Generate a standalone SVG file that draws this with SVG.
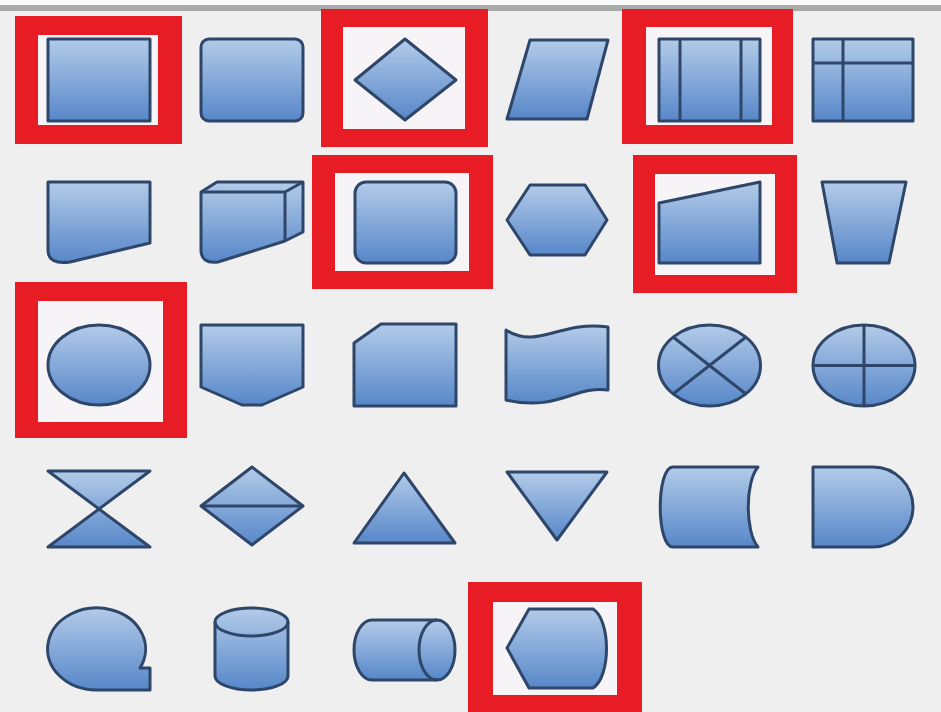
<svg xmlns="http://www.w3.org/2000/svg" width="941" height="712" viewBox="0 0 941 712">
<defs>
<linearGradient id="g" x1="0" y1="0" x2="0" y2="1">
<stop offset="0" stop-color="#b3cbe9"/>
<stop offset="1" stop-color="#5787c9"/>
</linearGradient>
<style>
.s{fill:url(#g);stroke:#2e4669;stroke-width:3;stroke-linejoin:round}
.l{fill:none;stroke:#2e4669;stroke-width:3}
.r{fill:#e81c24;fill-rule:evenodd}
.w{fill:#f7f4f7}
</style>
</defs>
<rect x="0" y="0" width="941" height="712" fill="#efefef"/>
<rect x="0" y="0" width="941" height="5" fill="#fafafa"/>
<rect x="0" y="5" width="941" height="6" fill="#a9a9a9"/>
<g id="highlights">
<rect class="w" x="38" y="35" width="120" height="90"/>
<path class="r" d="M15,16H182V144H15Z M38,35V125H158V35Z"/>
<rect class="w" x="343" y="27" width="122" height="102"/>
<path class="r" d="M321,9H488V147H321Z M343,27V129H465V27Z"/>
<rect class="w" x="646" y="27" width="126" height="98"/>
<path class="r" d="M622,9H793V144H622Z M646,27V125H772V27Z"/>
<rect class="w" x="335" y="173" width="134" height="98"/>
<path class="r" d="M312,155H493V289H312Z M335,173V271H469V173Z"/>
<rect class="w" x="655" y="174" width="120" height="101"/>
<path class="r" d="M633,155H797V293H633Z M655,174V275H775V174Z"/>
<rect class="w" x="38" y="301" width="125" height="121"/>
<path class="r" d="M15,282H187V438H15Z M38,301V422H163V301Z"/>
<rect class="w" x="493" y="602" width="124" height="93"/>
<path class="r" d="M468,582H642V712H468Z M493,602V695H617V602Z"/>
</g>
<g id="process"><rect class="s" x="48" y="39" width="102" height="82"/></g>
<g id="alternate-process"><rect class="s" x="201" y="39" width="102" height="82" rx="8"/></g>
<g id="decision"><path class="s" d="M405,39L456,80L405,120L355,80Z"/></g>
<g id="data"><path class="s" d="M530,40H608L587,119H507Z"/></g>
<g id="predefined-process"><rect class="s" x="659" y="39" width="101" height="82"/><path class="l" d="M680,39V121M741,39V121"/></g>
<g id="internal-storage"><rect class="s" x="813" y="39" width="100" height="82"/><path class="l" d="M843,39V121M813,63H913"/></g>
<g id="document"><path class="s" d="M48,182H150V243L70,262Q48,265 48,250Z"/></g>
<g id="multidocument"><path class="s" d="M201,192L217,182H303V232L285,241L218,262Q201,264 201,250Z"/><path class="l" d="M201,192H285V241M285,192L303,182"/></g>
<g id="terminator"><rect class="s" x="355" y="182" width="101" height="81" rx="11"/></g>
<g id="preparation"><path class="s" d="M507,220L530,185H585L607,220L585,255H530Z"/></g>
<g id="manual-input"><path class="s" d="M659,203L760,182V263H659Z"/></g>
<g id="manual-operation"><path class="s" d="M822,182H906L889,263H837Z"/></g>
<g id="connector"><ellipse class="s" cx="99" cy="365" rx="51" ry="40"/></g>
<g id="off-page-connector"><path class="s" d="M201,325H303V387L262,405H242L201,387Z"/></g>
<g id="card"><path class="s" d="M381,324H456V406H354V343Z"/></g>
<g id="punched-tape"><path class="s" d="M506,330C538,350 560,320 608,327V390C575,385 558,412 506,400Z"/></g>
<g id="summing-junction"><ellipse class="s" cx="709.5" cy="365.5" rx="51" ry="40.5"/><path class="l" d="M673,337L746,394M746,337L673,394"/></g>
<g id="or"><ellipse class="s" cx="864" cy="365.5" rx="51" ry="40.5"/><path class="l" d="M864,325V406M813,365.5H915"/></g>
<g id="collate"><path class="s" d="M48,471H150L48,547H150Z"/></g>
<g id="sort"><path class="s" d="M252,467L303,506L252,545L201,506Z"/><path class="l" d="M201,506H303"/></g>
<g id="extract"><path class="s" d="M404,473L455,543H354Z"/></g>
<g id="merge"><path class="s" d="M507,472H607L557,540Z"/></g>
<g id="stored-data"><path class="s" d="M673,467H758C745,482 745,532 758,547H673C656,547 656,467 673,467Z"/></g>
<g id="delay"><path class="s" d="M813,467H873A40,40 0 0 1 873,547H813Z"/></g>
<g id="sequential-access-storage"><path class="s" d="M97,690A49,41 0 1 1 140,668H150V690Z"/></g>
<g id="magnetic-disk"><path class="s" d="M215,622A36.5,14 0 0 1 288,622V676A36.5,14 0 0 1 215,676Z"/><path class="l" d="M215,622A36.5,14 0 0 0 288,622"/></g>
<g id="direct-access-storage"><path class="s" d="M372,620H437A18,30 0 0 1 437,680H372A18,30 0 0 1 372,620Z"/><path class="l" d="M437,620A18,30 0 0 0 437,680"/></g>
<g id="display"><path class="s" d="M507,648L529,609H593C611,620 611,677 593,688H529Z"/></g>
<g id="connectors"/>
</svg>
